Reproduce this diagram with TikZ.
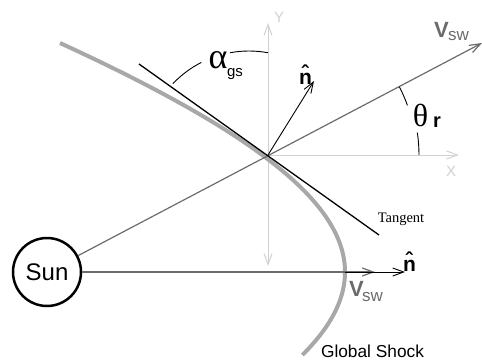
\documentclass[tikz,border=0pt]{standalone}
\usepackage{fontspec}
\setmainfont{Liberation Sans}
\newfontfamily\tmsfont{Liberation Serif}
\usetikzlibrary{arrows.meta}
\definecolor{axisgray}{gray}{0.82}
\definecolor{vgray}{gray}{0.42}
\definecolor{shockgray}{gray}{0.66}
\begin{document}
\begin{tikzpicture}[x=1pt,y=-1pt,
  barb/.tip={Straight Barb[length=11pt,width=8pt]},
  axisline/.style={draw=axisgray, line width=1pt},
  vline/.style={draw=vgray, line width=1.2pt},
  nline/.style={draw=black, line width=0.9pt},
  shockline/.style={draw=shockgray, line width=4pt},
  tangentline/.style={draw=black, line width=1.3pt},
  arcline/.style={draw=black, line width=0.9pt},
  lab/.style={inner sep=0pt, outer sep=0pt},
  greek/.style={lab, font=\tmsfont\fontsize{32}{36}\selectfont},
  vbig/.style={lab, text=vgray, font=\bfseries\fontsize{22}{26}\selectfont},
  vsub/.style={lab, text=vgray, font=\fontsize{17}{20}\selectfont},
  nhat/.style={lab, font=\bfseries\fontsize{21}{24}\selectfont},
  axlab/.style={lab, text=axisgray, font=\fontsize{15}{18}\selectfont},
  sunnode/.style={circle, draw=black, line width=2.5pt, minimum size=68pt, inner sep=0pt, font=\fontsize{24}{28}\selectfont}
]
\useasboundingbox (0,0) rectangle (482,361);

% coordinates
\coordinate (O) at (268,155);
\coordinate (ytop) at (268,23);
\coordinate (ybot) at (268,266);
\coordinate (xtip) at (459,155);
\coordinate (vtip) at (482,43);
\coordinate (vlow) at (375,272);
\coordinate (shk) at (345,272);
\coordinate (nlow) at (405,272);
\coordinate (ntip) at (314,81);
\coordinate (t1) at (139,64);
\coordinate (t2) at (379,235);
\coordinate (ac) at (249,156);

% Sun
\node[sunnode] (sun) at (47,272) {Sun};

% axes
\draw[axisline, {barb}-{barb}] (ybot) -- (ytop);
\draw[axisline, -{barb}] (O) -- (xtip);

% global shock
\draw[shockline] plot[domain=-229:83, samples=100] ({345-857*(sqrt(1+(\x/260)^2)-1)}, {272+\x});

% solar wind lines
\draw[vline, -{barb}] (sun) -- (vtip);
\draw[vline, -{barb}] (sun) -- (vlow);

% tangent
\draw[tangentline] (t1) -- (t2);

% normals
\draw[nline, -{barb}] (O) -- (ntip);
\draw[nline, -{barb}] (shk) -- (nlow);

% angle arcs
\draw[arcline] ([shift={(136.5:105pt)}]ac) arc[start angle=136.5, end angle=117, radius=105pt];
\draw[arcline] ([shift={(100.5:105pt)}]ac) arc[start angle=100.5, end angle=79.5, radius=105pt];
\draw[arcline] ([shift={(27.4:148pt)}]O) arc[start angle=27.4, end angle=19.6, radius=148pt];
\draw[arcline] ([shift={(8.5:151pt)}]O) arc[start angle=8.5, end angle=0, radius=151pt];

% labels
\node[lab, font=\tmsfont\fontsize{36}{40}\selectfont] (alpha) at (218,60.5) {α};
\node[lab, font=\fontsize{15}{18}\selectfont] (gs) at (235,74) {gs};
\node[greek] (theta) at (420.5,115) {θ};
\node[lab, font=\bfseries\fontsize{20}{24}\selectfont] (rr) at (437,122) {r};
\node[nhat] (n1) at (305.5,75) {\^{n}};
\node[nhat] (n2) at (409.5,261.5) {\^{n}};
\node[vbig] (v1) at (441.5,29.5) {V};
\node[vsub] (sw1) at (458.5,36.5) {sw};
\node[vbig] (v2) at (356.5,289) {V};
\node[vsub] (sw2) at (372.5,297) {sw};
\node[axlab] (ylab) at (279,17.5) {Y};
\node[axlab] (xlab) at (451,171.5) {X};
\node[lab, font=\tmsfont\fontsize{14.5}{17}\selectfont] (tan) at (401,219) {Tangent};
\node[lab, font=\fontsize{17.3}{20}\selectfont] (gshock) at (372.5,351.5) {Global Shock};
\end{tikzpicture}
\end{document}
